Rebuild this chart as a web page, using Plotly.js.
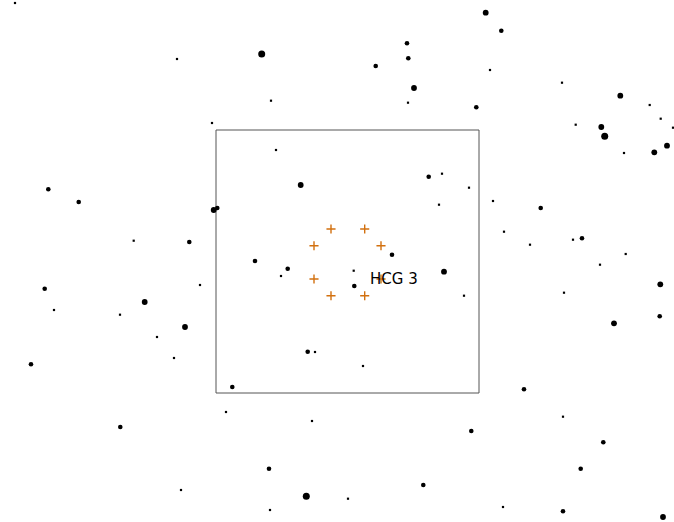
<!DOCTYPE html>
<html>
<head>
<meta charset="utf-8">
<script src="https://cdn.plot.ly/plotly-3.0.1.min.js"></script>
<style>
  html, body { margin: 0; padding: 0; background: #ffffff; }
  #chart { width: 674px; height: 522px; }
</style>
</head>
<body>
<div id="chart"></div>
<script>
// Field stars around the group (sky-plane coordinates, y grows downward)
const starX = [15, 177, 261.7, 271, 212, 276, 300.7, 48.3, 78.7, 213.7, 217.3, 133.7, 189.3, 255,
  485.7, 501.3, 407, 408.3, 375.7, 414, 490, 562, 620.3, 649.7, 660.7, 673, 408, 476.3, 575.7,
  601.3, 604.7, 624, 654.3, 667, 428.7, 442, 469, 439, 493, 540.7, 504, 530, 573, 582, 625.7, 392,
  287.7, 281, 200, 44.7, 144.7, 54, 120, 185, 157, 174, 31, 307.7, 315, 232.3, 226, 312, 120.3,
  269, 181, 306.3, 270,
  353.7, 354.3, 444, 464, 363, 600, 660.3, 564, 659.7, 614, 524, 563, 471.3, 603.3, 580.7, 423.3,
  348, 503, 563, 663];
const starY = [3, 59, 54, 100.7, 123, 150, 185, 189.3, 202, 210, 208, 240.7, 242, 261,
  12.7, 30.7, 43.3, 58.3, 66, 88, 70, 82.7, 95.7, 105, 118.7, 127.7, 102.7, 107.3, 124.7,
  127, 136.3, 153, 152.3, 145.7, 176.7, 173.7, 187.7, 204.7, 201, 208, 231.7, 244.7, 239.7, 238.3, 254, 254.7,
  268.7, 276, 285, 288.7, 302, 310, 314.7, 327, 337, 358, 364.3, 351.7, 352, 387, 412, 421, 427,
  468.7, 490, 496.3, 510,
  270.7, 286, 271.7, 295.7, 366, 264.7, 284.3, 292.7, 316.3, 323.3, 389.3, 416.7, 431, 442.3, 468.7, 485,
  498.7, 507, 511.3, 517];
// Apparent magnitude class: brighter stars get bigger dots
const starMag = [14, 14, 10, 14, 14, 14, 11, 12, 12, 11, 12, 14, 12, 12,
  11, 12, 12, 12, 12, 11, 14, 14, 11, 14, 14, 14, 14, 12, 14,
  11, 10, 14, 11, 11, 12, 14, 14, 14, 14, 12, 14, 14, 14, 12, 14, 12,
  12, 14, 14, 12, 11, 14, 14, 11, 14, 14, 12, 12, 14, 12, 14, 14, 12,
  12, 14, 10, 14,
  14, 12, 11, 14, 14, 14, 11, 14, 12, 11, 12, 14, 12, 12, 12, 12,
  14, 14, 12, 11];

// Group members of HCG 3
const memberX = [331, 364.7, 314, 381, 314, 381, 331, 364.7];
const memberY = [229, 229, 245.7, 245.7, 279, 279, 295.7, 295.7];

// Group label and the field-of-view frame centred on it
const groupName = 'HCG 3';
const groupCenter = [347.5, 261.5];
const fieldHalfWidth = 131.5;
const labelPos = [368, 279];

const W = 674, H = 522;

function magToSize(m) {
  if (m >= 14) return 2.2;
  if (m >= 12) return 4.6;
  if (m >= 11) return 5.8;
  return 7;
}

const stars = {
  x: starX, y: starY, type: 'scatter', mode: 'markers', hoverinfo: 'skip',
  marker: {
    color: '#000000',
    opacity: 1,
    size: starMag.map(magToSize),
    symbol: starMag.map(m => m >= 14 ? 'square' : 'circle'),
    line: { width: 0 }
  }
};

const members = {
  x: memberX, y: memberY, type: 'scatter', mode: 'markers', hoverinfo: 'skip',
  marker: {
    color: '#d2700f', size: 6.5, symbol: 'cross-thin', opacity: 1,
    line: { color: '#d2700f', width: 1.4 }
  }
};

const layout = {
  width: W, height: H,
  margin: { l: 0, r: 0, t: 0, b: 0 },
  paper_bgcolor: '#ffffff', plot_bgcolor: '#ffffff',
  showlegend: false,
  xaxis: { range: [0, W], visible: false, fixedrange: true },
  yaxis: { range: [H, 0], visible: false, fixedrange: true },
  shapes: [{
    type: 'rect', xref: 'x', yref: 'y',
    x0: groupCenter[0] - fieldHalfWidth, x1: groupCenter[0] + fieldHalfWidth,
    y0: groupCenter[1] - fieldHalfWidth, y1: groupCenter[1] + fieldHalfWidth,
    line: { color: '#555555', width: 1 }, fillcolor: 'rgba(0,0,0,0)', layer: 'below'
  }],
  annotations: [{
    x: labelPos[0], y: labelPos[1], xref: 'x', yref: 'y',
    text: groupName, showarrow: false, xanchor: 'left', yanchor: 'middle',
    font: { family: 'DejaVu Sans', size: 15, color: '#000000' }
  }]
};

Plotly.newPlot('chart', [stars, members], layout, { staticPlot: true, displayModeBar: false });
</script>
</body>
</html>
